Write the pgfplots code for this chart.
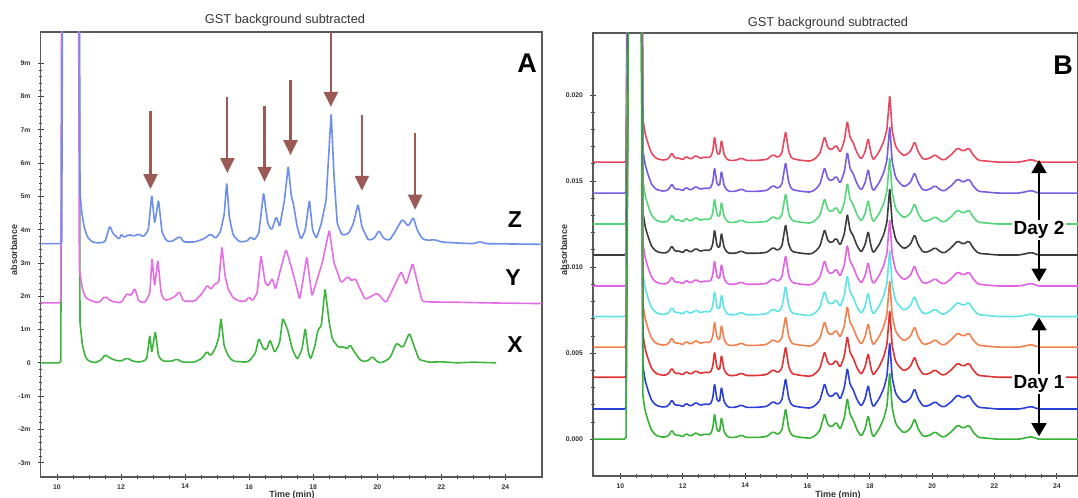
\documentclass[border=0pt]{standalone}
\usepackage{pgfplots}
\pgfplotsset{compat=1.18}
\usepackage{pgfplotstable}
\usepackage{fontspec}
\setmainfont{Liberation Sans}
\usetikzlibrary{arrows.meta}
\definecolor{zblue}{HTML}{6B8FEA}
\definecolor{ymag}{HTML}{E46FE4}
\definecolor{xgreen}{HTML}{3DB53D}
\definecolor{arrc}{HTML}{9C5A57}
\definecolor{bred}{HTML}{E8485F}
\definecolor{bpurple}{HTML}{7A5CE2}
\definecolor{blgreen}{HTML}{55D67A}
\definecolor{bblack}{HTML}{3C3C3C}
\definecolor{bmag}{HTML}{E263E2}
\definecolor{bcyan}{HTML}{5EE3E6}
\definecolor{borange}{HTML}{F2804F}
\definecolor{bred2}{HTML}{E03232}
\definecolor{bblue}{HTML}{2B40D6}
\definecolor{bgreen}{HTML}{36B336}
\pgfplotsset{
  chrom/.style={scale only axis, anchor=south west, clip=true,
    axis line style={draw=black!65, line width=0.6pt},
    tick style={black!75, line width=0.4pt}, tick align=center,
    major tick length=3pt, minor tick length=1.6pt,
    xtick pos=left, ytick pos=left, scaled y ticks=false,
    xtick={10,12,...,24}, xticklabels={10,12,14,16,18,20,22,24},
    minor x tick num=3, minor y tick num=4,
    ticklabel style={font=\fontsize{3.4}{3.6}\selectfont\bfseries, text=black!80},
    xticklabel style={yshift=1.4pt},
    every axis plot/.append style={line width=0.8pt, line join=round, rounded corners=0.8pt}},
}
\tikzset{
  pkarrow/.style={arrc, line width=1.1pt, -{Triangle[length=7.5pt,width=7pt]}},
  dayarrow/.style={black, line width=0.8pt, {Triangle[length=6.5pt,width=7.5pt]}-{Triangle[length=6.5pt,width=7.5pt]}},
}
% panel B: one peak profile above its own baseline (time in min, absorbance)
\pgfplotstableread{
t h
9.12 0
10.18 0
10.5 0.1
10.72 0.0025
10.8 0.0016
10.9 0.001
11.0 0.0005
11.15 0.0002
11.4 0.0001
11.55 0.0002
11.65 0.00055
11.75 0.0002
11.9 0.00025
12.0 0.0001
12.1 0.00035
12.25 0.00015
12.43 0.0004
12.55 0.0002
12.7 0.0003
12.88 0.00025
12.96 0.0006
13.02 0.0015
13.1 0.0005
13.18 0.0004
13.24 0.0013
13.33 0.0004
13.45 0.0001
13.7 0.0001
13.9 0.00025
14.0 0.0001
14.4 0.0001
14.7 0.00015
14.9 0.00045
15.05 0.00025
15.18 0.0005
15.3 0.0018
15.4 0.0006
15.5 0.0002
15.8 0.0001
16.1 0.00005
16.25 0.0002
16.4 0.0005
16.55 0.0015
16.66 0.0008
16.78 0.0007
16.92 0.001
17.05 0.00055
17.18 0.0012
17.28 0.0024
17.37 0.0014
17.45 0.0012
17.6 0.0005
17.73 0.00015
17.85 0.0006
17.95 0.0014
18.04 0.0005
18.11 0.0001
18.3 0.0006
18.45 0.0012
18.55 0.0019
18.64 0.0039
18.72 0.0018
18.83 0.0009
18.95 0.0006
19.1 0.00035
19.3 0.0006
19.44 0.0012
19.55 0.0006
19.71 0.00015
19.9 0.0002
20.1 0.00044
20.25 0.0002
20.38 0.0001
20.6 0.0004
20.82 0.00083
21.0 0.00062
21.18 0.00083
21.32 0.0004
21.48 0.0001
21.8 0.00005
22.1 0.0
22.8 0.0
23.19 0.00015
23.4 0.0
24.8 0.0
}\profB

\begin{document}
\begin{tikzpicture}[x=1pt,y=1pt]
\useasboundingbox (0,0) rectangle (539,249);

% ---------------- panel A ----------------
\begin{axis}[chrom, at={(20.3pt,10.5pt)}, width=250.7pt, height=222.5pt,
  xmin=9.49, xmax=25.14, ymin=-3.43, ymax=9.94,
  ytick={-3,...,9}, yticklabels={-3m,-2m,-1m,0,1m,2m,3m,4m,5m,6m,7m,8m,9m}]
% X (green)
\addplot[xgreen] coordinates {(9.49,0) (10.12,0) (10.45,100) (10.72,1.2) (10.8,0.5) (10.9,0.15) (11.0,0.05) (11.2,0) (11.4,0.1) (11.5,0.25) (11.65,0.15) (11.8,0.08) (12.0,0.05) (12.2,0.15) (12.35,0.05) (12.6,0.02) (12.8,0.1) (12.9,0.84) (12.96,0.3) (13.07,0.95) (13.17,0.2) (13.3,0.05) (13.6,0.05) (13.75,0.12) (13.9,0.02) (14.3,0.02) (14.55,0.15) (14.68,0.35) (14.8,0.2) (14.95,0.45) (15.05,0.75) (15.12,1.35) (15.22,0.5) (15.35,0.2) (15.5,0.05) (15.9,0.02) (16.0,0.05) (16.2,0.3) (16.3,0.75) (16.45,0.4) (16.55,0.4) (16.65,0.7) (16.8,0.3) (16.95,0.6) (17.05,1.35) (17.2,1.0) (17.35,0.4) (17.5,0.1) (17.65,0.4) (17.75,1.05) (17.85,0.3) (17.92,0.1) (18.05,0.5) (18.15,1.0) (18.25,1.1) (18.37,2.24) (18.5,1.2) (18.6,0.7) (18.8,0.45) (18.95,0.5) (19.05,0.4) (19.15,0.55) (19.3,0.3) (19.5,0.05) (19.7,0.05) (19.85,0.2) (20.0,0.02) (20.15,0) (20.4,0.15) (20.6,0.6) (20.8,0.45) (21.0,0.9) (21.15,0.5) (21.3,0.1) (21.6,0.02) (22.0,0.03) (22.5,0) (23.0,0.02) (23.7,0)};
% Y (magenta), baseline 1.8m
\addplot[ymag] coordinates {(9.49,1.8) (10.12,1.8) (10.42,101.8) (10.7,2.8) (10.8,2.2) (10.9,1.95) (11.1,1.85) (11.3,1.8) (11.5,2.0) (11.7,1.85) (12.0,1.8) (12.2,2.1) (12.3,2.0) (12.43,2.25) (12.55,1.85) (12.75,1.8) (12.9,2.1) (12.97,3.15) (13.05,2.3) (13.15,3.1) (13.25,2.1) (13.35,1.88) (13.5,1.9) (13.7,2.0) (13.82,2.15) (13.95,1.85) (14.3,1.85) (14.5,2.05) (14.7,2.34) (14.8,2.2) (14.95,2.4) (15.05,2.4) (15.15,3.5) (15.25,2.6) (15.35,2.2) (15.5,1.95) (15.7,1.85) (15.9,1.85) (16.0,2.0) (16.1,1.85) (16.25,2.1) (16.37,3.24) (16.5,2.4) (16.6,2.3) (16.72,2.55) (16.82,2.2) (16.95,2.7) (17.15,3.42) (17.37,2.7) (17.58,1.9) (17.8,3.2) (17.96,2.0) (18.28,3.0) (18.5,4.0) (18.65,3.0) (18.87,2.4) (19.09,2.6) (19.2,2.45) (19.3,2.55) (19.62,1.9) (20.0,2.1) (20.27,1.8) (20.75,2.75) (20.9,2.35) (21.1,3.0) (21.4,1.85) (21.6,1.83) (22.5,1.82) (23.5,1.8) (25.14,1.78)};
% Z (blue), baseline 3.58m
\addplot[zblue] coordinates {(9.49,3.58) (10.15,3.58) (10.45,103.6) (10.72,5.08) (10.78,4.48) (10.85,4.08) (10.95,3.78) (11.1,3.63) (11.3,3.6) (11.5,3.63) (11.65,4.12) (11.75,3.88) (11.85,3.8) (11.95,3.7) (12.0,3.88) (12.1,3.76) (12.25,3.86) (12.4,3.8) (12.55,3.88) (12.7,3.78) (12.85,3.98) (12.96,5.05) (13.05,4.18) (13.17,4.9) (13.28,3.93) (13.4,3.68) (13.55,3.63) (13.85,3.8) (13.95,3.63) (14.3,3.63) (14.6,3.73) (14.8,3.88) (14.95,3.73) (15.1,3.93) (15.22,4.45) (15.3,5.42) (15.38,4.38) (15.5,3.83) (15.7,3.63) (15.95,3.66) (16.05,3.8) (16.15,3.68) (16.3,3.88) (16.45,5.12) (16.58,4.18) (16.7,3.98) (16.85,4.4) (16.95,4.08) (17.1,4.88) (17.22,5.92) (17.32,4.98) (17.38,4.78) (17.5,4.08) (17.62,3.7) (17.75,3.98) (17.88,4.9) (17.98,3.98) (18.1,3.73) (18.25,4.18) (18.4,4.88) (18.56,7.5) (18.65,5.58) (18.75,4.18) (18.9,3.83) (19.1,3.88) (19.25,4.18) (19.4,4.78) (19.52,4.08) (19.72,3.68) (19.9,3.73) (20.05,3.98) (20.2,3.73) (20.38,3.68) (20.55,3.93) (20.78,4.32) (20.97,4.1) (21.12,4.38) (21.25,3.98) (21.4,3.73) (21.55,3.68) (21.8,3.7) (22.0,3.63) (22.5,3.6) (23.0,3.58) (23.2,3.64) (23.4,3.58) (25.14,3.56)};
% arrows onto the marked peaks
\draw[pkarrow] (axis cs:12.92,7.56) -- (axis cs:12.92,5.22);
\draw[pkarrow] (axis cs:15.32,8.0) -- (axis cs:15.32,5.7);
\draw[pkarrow] (axis cs:16.48,7.71) -- (axis cs:16.48,5.44);
\draw[pkarrow] (axis cs:17.29,8.5) -- (axis cs:17.29,6.24);
\draw[pkarrow] (axis cs:18.55,9.94) -- (axis cs:18.55,7.69);
\draw[pkarrow] (axis cs:19.52,7.46) -- (axis cs:19.52,5.17);
\draw[pkarrow] (axis cs:21.18,6.91) -- (axis cs:21.18,4.6);
\end{axis}

% ---------------- panel B ----------------
\begin{axis}[chrom, at={(296.5pt,11pt)}, width=242.5pt, height=221.5pt,
  xmin=9.12, xmax=24.68, ymin=-0.00214, ymax=0.0236,
  ytick={0,0.005,0.01,0.015,0.02}, yticklabels={0.000,0.005,0.010,0.015,0.020}]
\addplot[bred] table[x=t, y expr=\thisrow{h}+0.0161] {\profB};
\addplot[bpurple] table[x=t, y expr=\thisrow{h}+0.0143] {\profB};
\addplot[blgreen] table[x=t, y expr=\thisrow{h}+0.0125] {\profB};
\addplot[bblack] table[x=t, y expr=\thisrow{h}+0.0107] {\profB};
\addplot[bmag] table[x=t, y expr=\thisrow{h}+0.0089] {\profB};
\addplot[bcyan] table[x=t, y expr=\thisrow{h}+0.00713] {\profB};
\addplot[borange] table[x=t, y expr=\thisrow{h}+0.00535] {\profB};
\addplot[bred2] table[x=t, y expr=\thisrow{h}+0.0036] {\profB};
\addplot[bblue] table[x=t, y expr=\thisrow{h}+0.00175] {\profB};
\addplot[bgreen] table[x=t, y=h] {\profB};
\draw[dayarrow] (axis cs:23.43,0.00915) -- (axis cs:23.43,0.01622);
\draw[dayarrow] (axis cs:23.43,0.00017) -- (axis cs:23.43,0.00707);
\node[fill=white, inner sep=0.8pt, font=\fontsize{9.5}{10}\selectfont\bfseries] at (axis cs:23.43,0.01217) {Day 2};
\node[fill=white, inner sep=0.8pt, font=\fontsize{9.5}{10}\selectfont\bfseries] at (axis cs:23.43,0.0032) {Day 1};
\end{axis}

% titles and labels
\node[font=\fontsize{6.4}{7}\selectfont, text=black!80] at (142.5,239) {GST background subtracted};
\node[font=\fontsize{6.4}{7}\selectfont, text=black!80] at (414,237.5) {GST background subtracted};
\node[font=\fontsize{4.5}{5}\selectfont\bfseries, text=black!80] at (146,1.6) {Time (min)};
\node[font=\fontsize{4.5}{5}\selectfont\bfseries, text=black!80] at (419,1.6) {Time (min)};
\node[rotate=90, font=\fontsize{4.5}{5}\selectfont\bfseries, text=black!80] at (7,124) {absorbance};
\node[rotate=90, font=\fontsize{4.5}{5}\selectfont\bfseries, text=black!80] at (282,124) {absorbance};
\node[font=\fontsize{13.5}{14}\selectfont\bfseries] at (263.5,217.5) {A};
\node[font=\fontsize{13.5}{14}\selectfont\bfseries] at (531.5,216.5) {B};
\node[font=\fontsize{11.5}{12}\selectfont\bfseries] at (257.5,139) {Z};
\node[font=\fontsize{11.5}{12}\selectfont\bfseries] at (256.5,110) {Y};
\node[font=\fontsize{11.5}{12}\selectfont\bfseries] at (257.5,76.5) {X};
\end{tikzpicture}
\end{document}
